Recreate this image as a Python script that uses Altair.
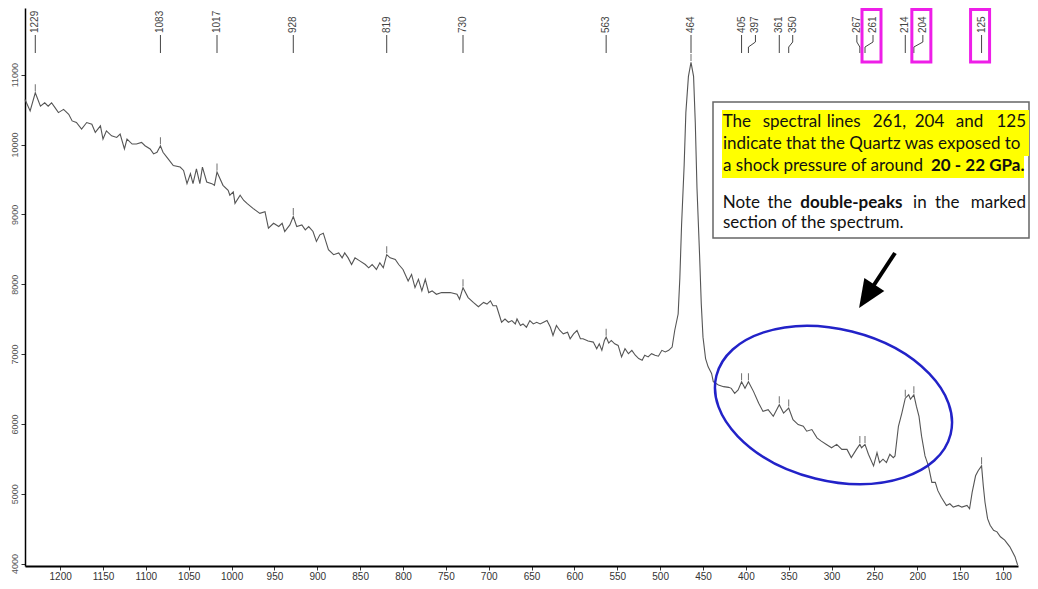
import altair as alt
import pandas as pd

# ---------------- data ----------------
wavenumber = [
    1241, 1235, 1229, 1223, 1218, 1214, 1210, 1206, 1202, 1196, 1190, 1186, 1181, 1175, 1169, 1163,
    1159, 1153, 1150, 1146, 1140, 1134, 1130, 1125, 1122, 1116, 1111, 1105, 1101, 1095, 1091, 1087,
    1083, 1080, 1074, 1068, 1060, 1056, 1052, 1048, 1045, 1041, 1037, 1034, 1029, 1023, 1020, 1017,
    1010, 1004, 1002, 998, 996, 990, 986, 982, 975, 967, 961, 957, 951, 945, 941, 938,
    932, 928, 924, 918, 914, 910, 905, 901, 897, 893, 887, 881, 875, 871, 868, 864,
    860, 856, 850, 844, 840, 836, 831, 827, 823, 819, 815, 809, 805, 800, 794, 790,
    786, 782, 778, 774, 770, 766, 761, 755, 745, 737, 734, 730, 724, 718, 712, 706,
    702, 698, 695, 691, 688, 685, 681, 677, 673, 669, 667, 663, 660, 656, 652, 648,
    644, 640, 636, 632, 628, 625, 621, 617, 613, 608, 605, 601, 597, 593, 590, 584,
    578, 574, 571, 568, 565, 563, 560, 557, 553, 549, 545, 541, 537, 533, 529, 525,
    521, 518, 514, 510, 506, 502, 498, 494, 490, 486, 483, 479, 477, 475, 472, 470,
    467, 464, 461, 459, 457, 454, 452, 450, 447, 444, 440, 438, 432, 426, 420, 417,
    413, 409, 405, 401, 397, 391, 385, 380, 374, 368, 361, 356, 350, 345, 339, 333,
    329, 323, 317, 312, 306, 300, 294, 288, 282, 277, 271, 267, 265, 261, 257, 251,
    247, 244, 240, 236, 232, 228, 226, 222, 218, 214, 210, 208, 204, 201, 198, 195,
    191, 187, 183, 179, 176, 172, 166, 162, 158, 152, 148, 142, 139, 136, 132, 129,
    125, 123, 121, 118, 115, 111, 107, 103, 98, 92, 86, 83,
]
intensity = [
    10645, 10480, 10740, 10550, 10598, 10550, 10598, 10528, 10457, 10504, 10433, 10338, 10315, 10220, 10315, 10291,
    10173, 10267, 10078, 10196, 10125, 10102, 10149, 9937, 10078, 10007, 10007, 10031, 9983, 9937, 9866, 9890,
    9983, 9890, 9795, 9700, 9677, 9629, 9440, 9582, 9440, 9653, 9440, 9677, 9464, 9440, 9416, 9606,
    9416, 9345, 9274, 9322, 9157, 9274, 9203, 9157, 9086, 9015, 9039, 8802, 8873, 8826, 8873, 8755,
    8849, 8968, 8826, 8849, 8778, 8826, 8755, 8613, 8707, 8731, 8494, 8423, 8448, 8377, 8448, 8377,
    8282, 8377, 8330, 8282, 8235, 8282, 8211, 8306, 8235, 8423, 8377, 8353, 8282, 8211, 8046, 8140,
    7951, 8069, 7904, 8069, 7880, 7904, 7856, 7880, 7880, 7856, 7785, 7951, 7809, 7739, 7678, 7739,
    7715, 7762, 7691, 7691, 7573, 7455, 7502, 7455, 7479, 7431, 7502, 7408, 7431, 7384, 7479, 7431,
    7455, 7431, 7455, 7479, 7384, 7266, 7408, 7337, 7289, 7313, 7218, 7289, 7337, 7218, 7218, 7186,
    7171, 7076, 7147, 7053, 7195, 7242, 7157, 7195, 7147, 7124, 6959, 7076, 7005, 7053, 6983, 6935,
    6912, 6983, 6959, 7005, 6983, 6969, 7053, 7030, 7053, 7100, 7337, 7573, 8093, 8849, 9700, 10457,
    10976, 11175, 10976, 10315, 9370, 8423, 7715, 7242, 6935, 6817, 6722, 6604, 6557, 6533, 6523, 6509,
    6438, 6487, 6604, 6509, 6604, 6462, 6297, 6179, 6203, 6108, 6274, 6155, 6226, 6061, 5990, 5966,
    5895, 5919, 5800, 5753, 5706, 5658, 5706, 5635, 5635, 5517, 5635, 5706, 5658, 5706, 5565, 5399,
    5588, 5446, 5494, 5446, 5565, 5517, 5541, 5966, 6155, 6368, 6416, 6353, 6416, 6250, 6108, 5824,
    5541, 5399, 5162, 5162, 5044, 4950, 4832, 4856, 4808, 4832, 4808, 4832, 4785, 5020, 5257, 5330,
    5399, 5115, 4878, 4643, 4548, 4477, 4454, 4383, 4335, 4240, 4099, 3981,
]

peak_wn = [1229, 1083, 1017, 928, 819, 730, 563, 464, 405, 397, 361, 350, 267, 261, 214, 204, 125]
peak_int = [10740, 9983, 9606, 8968, 8423, 7951, 7242, 11175, 6604, 6604, 6274, 6226, 5706, 5706, 6368, 6416, 5399]

marked_peaks = [261, 204, 125]

x_ticks = list(range(100, 1201, 50))
y_ticks = list(range(4000, 11001, 1000))

note_line1 = ["The", "spectral", "lines", "261,", "204", "and", "125"]
note_line2 = "indicate that the Quartz was exposed to"
note_line3a = "a shock pressure of around"
note_line3b = "20 - 22 GPa."
note_line4 = ["Note", "the", "double-peaks", "in", "the", "marked"]
note_line5 = "section of the spectrum."

# ---------------- styles / layout ----------------
W, H = 993, 558
FONT = "Liberation Sans"
NOTE_FONT = "Lato"
NOTE_SIZE = 17
LINE_COLOR = "#555555"
LABEL_COLOR = "#444444"
MAGENTA = "#ee1ee8"
BLUE = "#2222c8"
NOTE_RIGHT = 1001  # right edge of justified note lines (plot px)
LINE1_X = [697.7, 737.7, 801.7, 847.7, 889.7, 930.7]
LINE4_X = [697.7, 742.5, 775.3, 888.1, 909.9]

# label shifts (px) for crowded labels
label_shift = {397: 7, 350: 4, 267: -3, 261: 8, 204: 9}

xs = alt.Scale(domain=[82.5, 1241], reverse=True, nice=False, zero=False)
ys = alt.Scale(domain=[3965, 11955], nice=False, zero=False)

spec_df = pd.DataFrame({"wn": wavenumber, "I": intensity, "idx": range(len(wavenumber))})
peak_df = pd.DataFrame({"wn": peak_wn, "I": peak_int, "label": [str(p) for p in peak_wn]})
one = pd.DataFrame({"a": [0]})

X = alt.X("wn:Q", scale=xs, title=None,
          axis=alt.Axis(values=x_ticks, format="d", labelFontSize=10, labelFont=FONT,
                        labelColor="#333333", tickSize=4, tickColor="#333333",
                        domainColor="#000000", domainWidth=2, grid=False, labelPadding=1,
                        labelFlush=False))
Y = alt.Y("I:Q", scale=ys, title=None,
          axis=alt.Axis(values=y_ticks, format="d", labelFontSize=9, labelFont=FONT,
                        labelColor="#555555", labelAngle=270, labelAlign="center",
                        labelBaseline="bottom", tickSize=4, tickColor="#333333",
                        domainColor="#000000", domainWidth=1.5, grid=False, labelPadding=2,
                        labelFlush=False))

layers = []

spectrum = alt.Chart(spec_df).mark_line(color=LINE_COLOR, strokeWidth=1.1).encode(
    x=X, y=Y, order="idx:Q")
layers.append(spectrum)

peak_ticks = alt.Chart(peak_df).mark_tick(orient="vertical", size=7, thickness=1,
                                          yOffset=-5, color="#333333").encode(
    x=alt.X("wn:Q", scale=xs), y=alt.Y("I:Q", scale=ys))
layers.append(peak_ticks)

straight = [p for p in peak_wn if p not in label_shift]
base = alt.Chart(peak_df)
layers.append(
    base.transform_filter(alt.FieldOneOfPredicate(field="wn", oneOf=straight))
    .mark_rule(color=LABEL_COLOR, strokeWidth=1)
    .encode(x=alt.X("wn:Q", scale=xs), y=alt.value(45), y2=alt.value(27)))
layers.append(
    base.transform_filter(alt.FieldOneOfPredicate(field="wn", oneOf=straight))
    .mark_text(angle=270, align="left", baseline="middle", fontSize=10, font=FONT, color=LABEL_COLOR)
    .encode(x=alt.X("wn:Q", scale=xs), y=alt.value(25), text="label:N"))

for p, dx in label_shift.items():
    sub = base.transform_filter(alt.datum.wn == p)
    layers.append(sub.mark_rule(color=LABEL_COLOR, strokeWidth=1).encode(
        x=alt.X("wn:Q", scale=xs), y=alt.value(45), y2=alt.value(39)))
    layers.append(sub.mark_rule(color=LABEL_COLOR, strokeWidth=1, x2Offset=dx).encode(
        x=alt.X("wn:Q", scale=xs), x2="wn:Q", y=alt.value(39), y2=alt.value(34)))
    layers.append(sub.mark_rule(color=LABEL_COLOR, strokeWidth=1, xOffset=dx).encode(
        x=alt.X("wn:Q", scale=xs), y=alt.value(34), y2=alt.value(27)))
    layers.append(sub.mark_text(angle=270, align="left", baseline="middle", fontSize=10, font=FONT,
                                color=LABEL_COLOR, xOffset=dx).encode(
        x=alt.X("wn:Q", scale=xs), y=alt.value(25), text="label:N"))

# magenta boxes around marked labels
for p in marked_peaks:
    dx = label_shift.get(p, 0)
    layers.append(base.transform_filter(alt.datum.wn == p).mark_rect(
        fillOpacity=0, stroke=MAGENTA, strokeWidth=3, xOffset=dx - 11, x2Offset=dx + 8).encode(
        x=alt.X("wn:Q", scale=xs), x2="wn:Q", y=alt.value(1.5), y2=alt.value(54)))

# annotation box
layers.append(alt.Chart(one).mark_rect(fill="white", stroke="#666666", strokeWidth=1.5).encode(
    x=alt.value(688), x2=alt.value(1004), y=alt.value(94), y2=alt.value(230)))
for (x1, x2, y1, y2) in [(697, 1004, 102, 125), (697, 1004, 125, 148), (697, 999, 148, 170)]:
    layers.append(alt.Chart(one).mark_rect(fill="#ffff00", strokeWidth=0).encode(
        x=alt.value(x1), x2=alt.value(x2), y=alt.value(y1), y2=alt.value(y2)))

texts = []
for w, px in zip(note_line1[:-1], LINE1_X):
    texts.append((w, px, 118.7, "normal", "left"))
texts.append((note_line1[-1], NOTE_RIGHT, 118.7, "normal", "right"))
texts.append((note_line2, 698, 141, "normal", "left"))
texts.append((note_line3a, 698, 163, "normal", "left"))
texts.append((note_line3b, 906, 163, "bold", "left"))
for w, px in zip(note_line4[:-1], LINE4_X):
    texts.append((w, px, 200, "bold" if w == "double-peaks" else "normal", "left"))
texts.append((note_line4[-1], NOTE_RIGHT, 200, "normal", "right"))
texts.append((note_line5, 698, 220, "normal", "left"))
for t, px, py, fw, al in texts:
    layers.append(alt.Chart(one).mark_text(
        text=t, align=al, baseline="alphabetic", font=NOTE_FONT, fontSize=NOTE_SIZE,
        fontWeight=fw, color="#111111").encode(x=alt.value(px), y=alt.value(py)))

# blue ellipse
ellipse_path = "M -1 0 A 1 0.627 0 1 1 1 0 A 1 0.627 0 1 1 -1 0 Z"
layers.append(alt.Chart(one).mark_point(
    shape=ellipse_path, size=58275, angle=14, filled=False, color=BLUE, strokeWidth=2.5,
    opacity=1).encode(x=alt.value(808.5), y=alt.value(397)))

# arrow
layers.append(alt.Chart(one).mark_rule(color="black", strokeWidth=4).encode(
    x=alt.value(870), y=alt.value(245), x2=alt.value(845), y2=alt.value(283)))
layers.append(alt.Chart(one).mark_point(
    shape="M 0 -1 L 0.85 1 L -0.85 1 Z", size=784, angle=213, filled=True, color="black",
    opacity=1).encode(x=alt.value(841.7), y=alt.value(288.3)))

chart = alt.layer(*layers).properties(
    width=W, height=H,
    autosize=alt.AutoSizeParams(type="none"),
    padding={"left": 17, "top": 0, "right": 12, "bottom": 15},
    background="white",
).configure_view(stroke=None)

chart.save("out.html", embed_options={"renderer": "svg", "actions": False})
